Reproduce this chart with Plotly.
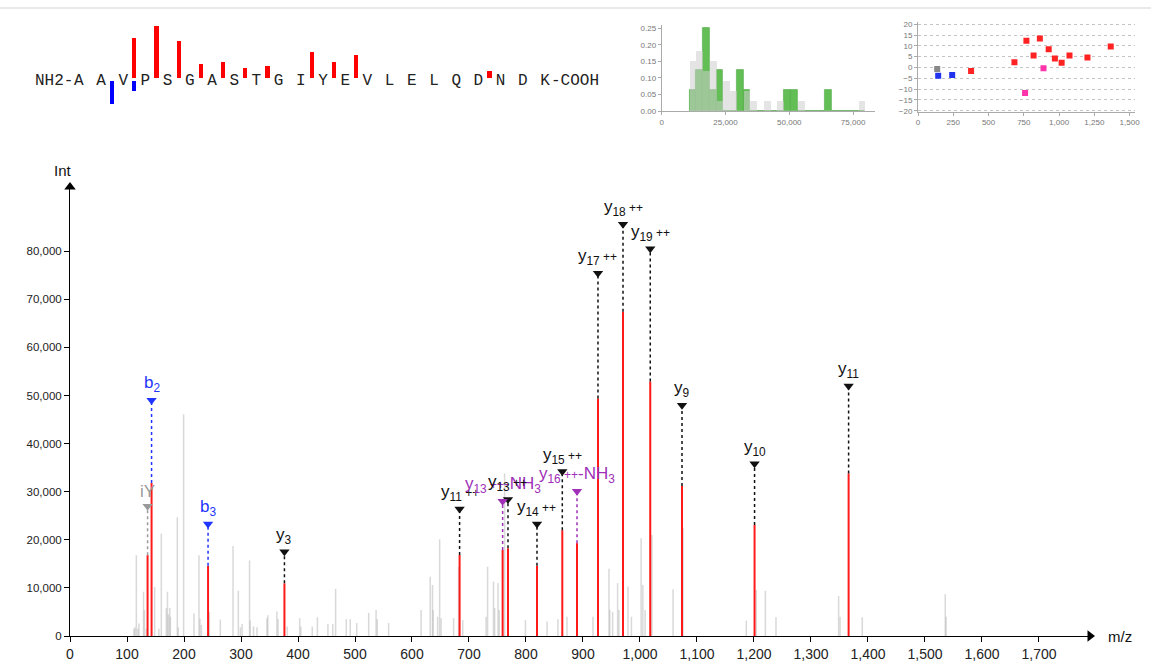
import plotly.graph_objects as go

W, H = 1151, 666

# ---------------- data ----------------
# unannotated (gray) peaks: m/z and intensity
gray_mz = [112, 114, 116.4, 119, 121, 129, 130.5, 134, 148.5, 156, 160.2, 169, 171, 172.5, 175, 176,
           188.3, 190, 199.3, 217.5, 226.3, 228, 230.5, 244.5, 263.7, 286, 295.3, 299, 302, 315, 316,
           322, 328, 345.5, 347, 363, 365, 381, 403, 405, 425, 434, 452.5, 461, 466, 484.7, 491.7,
           503, 524, 537, 539, 559, 616, 632, 636, 637, 645, 648.5, 651, 673, 681.8, 689, 730, 732.6,
           743, 745, 751, 753, 762.5, 799, 837, 856, 872, 917.5, 945.6, 947, 952, 960.7, 963, 978.9,
           985, 1002, 1005, 1009, 1021, 1058, 1075.5, 1186.5, 1204, 1220, 1238.6, 1348.5, 1351, 1390,
           1535.6, 1537]
gray_int = [1500, 1800, 16800, 1500, 2600, 9200, 5400, 1500, 10200, 1500, 21300, 5800, 9200, 4500, 5800, 4000,
            24700, 1800, 46100, 4700, 16800, 3600, 2300, 5000, 3400, 18700, 9400, 1800, 2500, 15700, 3200,
            2000, 1800, 3700, 4300, 5100, 3500, 2000, 3700, 2000, 2000, 3900, 2500, 2500, 9800, 3500, 3500,
            2700, 4800, 5400, 3500, 2700, 5400, 12300, 10600, 5400, 4000, 20100, 3700, 3700, 14400, 3300, 4000, 14400,
            11300, 5800, 11000, 5400, 33800, 3300, 3000, 3500, 4000, 4000, 14000, 5400, 5000, 11000, 5400, 10300,
            4000, 20300, 10600, 5400, 21000, 9700, 22400, 3200, 9600, 9400, 3900, 8300, 4000, 3900,
            8700, 4000]

# annotated peaks
SP = "<span style='font-size:12px'> ++</span>"
ion_text = ["iY", "b<sub>2</sub>", "b<sub>3</sub>", "y<sub>3</sub>", "y<sub>11</sub>" + SP,
            "y<sub>13</sub>" + SP + "-NH<sub>3</sub>", "y<sub>13</sub>" + SP, "y<sub>14</sub>" + SP,
            "y<sub>15</sub>" + SP, "y<sub>16</sub>" + SP + "-NH<sub>3</sub>", "y<sub>17</sub>" + SP,
            "y<sub>18</sub>" + SP, "y<sub>19</sub>" + SP, "y<sub>9</sub>", "y<sub>10</sub>", "y<sub>11</sub>"]
ion_kind = ["imm", "b", "b", "y", "y", "nh3", "y", "y", "y", "nh3", "y", "y", "y", "y", "y", "y"]
ion_mz = [136.1, 143.1, 242.2, 376.2, 683.5, 759.0, 768.4, 819.3, 863.7, 889.5, 926.3, 970.2, 1018.0, 1073.7, 1201.0, 1366.0]
ion_int = [16800, 31800, 14600, 10950, 16840, 17900, 18230, 14600, 22000, 19300, 49400, 67400, 52900, 31200, 23100, 33800]
ion_mark = [27000, 49000, 23300, 17500, 26400, 28000, 28400, 23300, 34200, 30100, 75400, 85600, 80500, 48000, 35800, 52000]
ion_err = [-0.7, -3.8, -3.5, -1.6, 2.4, -11.8, 12.4, 5.5, 13.4, -0.4, 8.4, 4.2, 2.2, 5.5, 4.6, 9.7]

# intensity histogram (counts per bin)
hist_start = 10800
hist_width = 2650
hist_all = [5, 6, 4, 5, 1, 3, 2, 0, 2, 1, 0, 1, 0, 1, 0, 0, 1, 0, 0, 0, 0, 0, 0, 0, 0, 1]
hist_ann = [1, 2, 4, 1, 2, 0, 0, 2, 1, 0, 0, 0, 0, 0, 1, 1, 0, 0, 0, 0, 1, 0, 0, 0, 0, 0]

# sequence coverage
residues = list("AAVPSGASTGIYEVLELQDNDK")
y_cut = [2, 3, 4, 5, 6, 7, 8, 10, 11, 12, 18]
y_bar = [40, 52.3, 37.6, 14.3, 16.6, 10, 12.6, 26, 16.6, 23.3, 7.3]
b_cut = [1, 2]
b_bar = [23.3, 10]

x_ticks = list(range(0, 1800, 100))
y_ticks = list(range(0, 90000, 10000))

# ---------------- style ----------------
kind_color = {"y": "#111111", "b": "#1f35ff", "nh3": "#a030b8", "imm": "#9a9a9a"}
err_color = {"y": "#ff2222", "b": "#2233ee", "nh3": "#ff33aa", "imm": "#888888"}
FONT = "Liberation Sans, Arial, sans-serif"
MONO = "Liberation Mono, Courier New, monospace"


def px(xp):
    return xp / W


def py(yp):
    return 1 - yp / H


def stems(xs, lo, hi):
    X, Y = [], []
    for x, a, b in zip(xs, lo, hi):
        X += [x, x, None]
        Y += [a, b, None]
    return X, Y


fig = go.Figure()

# gray peaks
gx, gy = stems(gray_mz, [0] * len(gray_mz), gray_int)
fig.add_trace(go.Scatter(x=gx, y=gy, mode="lines", line=dict(color="rgba(180,180,180,0.5)", width=1.5),
                         hoverinfo="skip", xaxis="x", yaxis="y"))
# red annotated peaks
rx, ry = stems(ion_mz, [0] * len(ion_mz), ion_int)
fig.add_trace(go.Scatter(x=rx, y=ry, mode="lines", line=dict(color="#ff1a1a", width=2),
                         hoverinfo="skip", xaxis="x", yaxis="y"))
# dashed connectors and markers per kind
for kind in ["y", "b", "nh3", "imm"]:
    idx = [i for i, k in enumerate(ion_kind) if k == kind]
    cx, cy = stems([ion_mz[i] for i in idx], [ion_int[i] for i in idx], [ion_mark[i] for i in idx])
    fig.add_trace(go.Scatter(x=cx, y=cy, mode="lines",
                             line=dict(color=kind_color[kind], width=1.5, dash="3px,3px"),
                             hoverinfo="skip", xaxis="x", yaxis="y"))
    fig.add_trace(go.Scatter(x=[ion_mz[i] for i in idx], y=[ion_mark[i] for i in idx], mode="markers",
                             marker=dict(symbol="triangle-down", size=9, color=kind_color[kind]),
                             hoverinfo="skip", xaxis="x", yaxis="y", cliponaxis=False))

# axis arrows
XMAX, YMAX = 1789.5, 93350
fig.add_trace(go.Scatter(x=[XMAX], y=[0], mode="markers", marker=dict(symbol="triangle-right", size=10, color="black"),
                         cliponaxis=False, hoverinfo="skip", xaxis="x", yaxis="y"))
fig.add_trace(go.Scatter(x=[0], y=[YMAX], mode="markers", marker=dict(symbol="triangle-up", size=10, color="black"),
                         cliponaxis=False, hoverinfo="skip", xaxis="x", yaxis="y"))

annotations = []
for t, k, m, mk in zip(ion_text, ion_kind, ion_mz, ion_mark):
    annotations.append(dict(x=m, y=mk, xref="x", yref="y", text=t, showarrow=False, yanchor="bottom",
                            xanchor="center", yshift=3, font=dict(family=FONT, size=17, color=kind_color[k])))
annotations.append(dict(x=px(63), y=py(170), xref="paper", yref="paper", text="Int", showarrow=False,
                        xanchor="center", yanchor="middle", font=dict(family=FONT, size=15, color="#111")))
annotations.append(dict(x=px(1106), y=py(636), xref="paper", yref="paper", text="m/z", showarrow=False,
                        xanchor="left", yanchor="middle", font=dict(family=FONT, size=15, color="#111")))

# ---------------- histogram inset ----------------
centers = [hist_start + hist_width * (k + 0.5) for k in range(len(hist_all))]
tot_all = sum(hist_all)
tot_ann = sum(hist_ann)
fig.add_trace(go.Bar(x=centers, y=[c / tot_ann for c in hist_ann], width=hist_width,
                     marker=dict(color="#63bf55", line=dict(color="#4fa845", width=0.6)),
                     hoverinfo="skip", xaxis="x2", yaxis="y2"))
fig.add_trace(go.Bar(x=centers, y=[c / tot_all for c in hist_all], width=hist_width,
                     marker=dict(color="rgba(205,205,205,0.55)", line=dict(width=0)),
                     hoverinfo="skip", xaxis="x2", yaxis="y2"))

# ---------------- error scatter inset ----------------
for kind in ["imm", "b", "y", "nh3"]:
    idx = [i for i, k in enumerate(ion_kind) if k == kind]
    fig.add_trace(go.Scatter(x=[ion_mz[i] for i in idx], y=[ion_err[i] for i in idx], mode="markers",
                             marker=dict(symbol="square", size=6, color=err_color[kind]),
                             hoverinfo="skip", xaxis="x3", yaxis="y3"))

# ---------------- sequence coverage ----------------
fig.add_trace(go.Bar(x=[c + 0.5 for c in y_cut], y=y_bar, base=1.2, width=0.19,
                     marker=dict(color="#ff0000", line=dict(width=0)), hoverinfo="skip", xaxis="x4", yaxis="y4"))
fig.add_trace(go.Bar(x=[c + 0.5 for c in b_cut], y=[-v for v in b_bar], base=-1.5, width=0.19,
                     marker=dict(color="#0000ff", line=dict(width=0)), hoverinfo="skip", xaxis="x4", yaxis="y4"))
fig.add_trace(go.Scatter(x=list(range(len(residues))), y=[-1.5] * len(residues), mode="text", text=residues,
                         textposition="middle center",
                         textfont=dict(family=MONO, size=16, color="#222"),
                         hoverinfo="skip", xaxis="x4", yaxis="y4"))
annotations.append(dict(x=-0.22, y=-1.5, xref="x4", yref="y4", text="NH2-", showarrow=False, xanchor="right",
                        yanchor="middle", borderpad=0,
                        font=dict(family=MONO, size=16, color="#222")))
annotations.append(dict(x=len(residues) - 1 + 0.22, y=-1.5, xref="x4", yref="y4", text="-COOH", showarrow=False,
                        xanchor="left", yanchor="middle", borderpad=0,
                        font=dict(family=MONO, size=16, color="#222")))

small_font = dict(family=FONT, size=8, color="#777")

fig.update_layout(
    width=W, height=H, margin=dict(l=0, r=0, t=0, b=0, autoexpand=False),
    paper_bgcolor="white", plot_bgcolor="white", showlegend=False,
    barmode="overlay", bargap=0,
    annotations=annotations,
    shapes=[dict(type="line", xref="paper", yref="paper", x0=0, x1=1, y0=py(8), y1=py(8),
                 line=dict(color="#e2e2e2", width=1.5))],
    xaxis=dict(domain=[px(70), px(1090)], range=[0, XMAX], anchor="y", showline=True, linecolor="black",
               linewidth=1, ticks="outside", ticklen=5, tickcolor="black", tickvals=x_ticks, tickformat=",d",
               showgrid=False, zeroline=False, automargin=False,
               tickfont=dict(family=FONT, size=14, color="#222")),
    yaxis=dict(domain=[py(636), py(187)], range=[0, YMAX], anchor="x", showline=True, linecolor="black",
               linewidth=1, ticks="outside", ticklen=5, tickcolor="black", tickvals=y_ticks, tickformat=",d",
               showgrid=False, zeroline=False, automargin=False,
               tickfont=dict(family=FONT, size=11.5, color="#222")),
    xaxis2=dict(domain=[px(661.7), px(875)], range=[0, 83580], anchor="y2", showline=True, linecolor="#aaa",
                ticks="outside", ticklen=3, tickcolor="#aaa", tickvals=[0, 25000, 50000, 75000], tickformat=",d",
                showgrid=False, zeroline=False, automargin=False, tickfont=small_font),
    yaxis2=dict(domain=[py(111), py(24.9)], range=[0, 0.26], anchor="x2", showline=True, linecolor="#aaa",
                ticks="outside", ticklen=3, tickcolor="#aaa", tickvals=[0, 0.05, 0.1, 0.15, 0.2, 0.25],
                tickformat=".2f", showgrid=False, zeroline=False, automargin=False, tickfont=small_font),
    xaxis3=dict(domain=[px(918), px(1135)], range=[0, 1538], anchor="y3", showline=True, linecolor="#aaa",
                ticks="outside", ticklen=3, tickcolor="#aaa", tickvals=[0, 250, 500, 750, 1000, 1250, 1500],
                tickformat=",d", showgrid=False, zeroline=False, automargin=False, tickfont=small_font),
    yaxis3=dict(domain=[py(111.8), py(22.1)], range=[-20.5, 21], anchor="x3", showline=True, linecolor="#aaa",
                ticks="outside", ticklen=3, tickcolor="#aaa", tickvals=[-20, -15, -10, -5, 0, 5, 10, 15, 20],
                showgrid=True, gridcolor="#c4c4c4", griddash="dot", gridwidth=1, zeroline=False,
                automargin=False, tickfont=small_font),
    xaxis4=dict(domain=[0, px(620)], range=[-78.8 / 22.2, (620 - 78.8) / 22.2], anchor="y4", visible=False,
                automargin=False),
    yaxis4=dict(domain=[py(120), py(10)], range=[-40.5, 69.5], anchor="x4", visible=False, automargin=False),
)

fig.write_html("out.html", config={"displayModeBar": False},
               post_script="document.body.style.margin='0px';")
